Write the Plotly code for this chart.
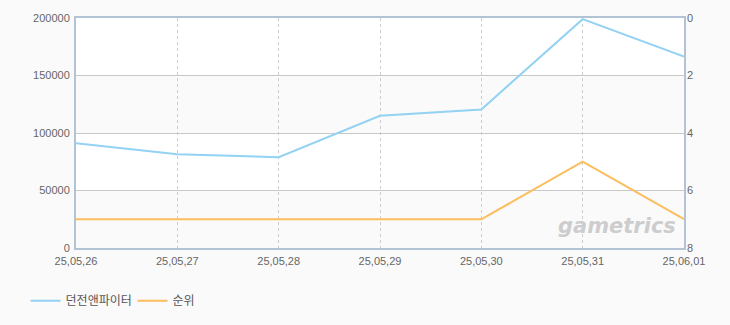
import plotly.graph_objects as go

dates = ["25,05,26", "25,05,27", "25,05,28", "25,05,29", "25,05,30", "25,05,31", "25,06,01"]
players = [91000, 81500, 79000, 115000, 120500, 199000, 166500]
ranks = [7, 7, 7, 7, 7, 5, 7]

name_a = "던전앤파이터"
name_b = "순위"

fig = go.Figure()
fig.add_trace(go.Scatter(x=dates, y=players, name=name_a, mode="lines",
                         line=dict(color="#93d2f2", width=2), yaxis="y"))
fig.add_trace(go.Scatter(x=dates, y=ranks, name=name_b, mode="lines",
                         line=dict(color="#fcbd5c", width=2), yaxis="y2"))

# alternating bands
for lo, hi in [(0, 50000), (100000, 150000)]:
    fig.add_shape(type="rect", xref="paper", yref="y", x0=0, x1=1, y0=lo, y1=hi,
                  fillcolor="#fafafa", line=dict(width=0), layer="below")

fig.add_annotation(text="<b><i>gametrics</i></b>", xref="paper", yref="paper",
                   x=0.99, y=0.035, xanchor="right", yanchor="bottom", showarrow=False,
                   font=dict(family="DejaVu Sans", size=21, color="#cdcdcd"))

tickfont = dict(family="Liberation Sans", size=11, color="#666666")
axis_line = "#b3c3d6"

fig.update_layout(
    width=730, height=325,
    margin=dict(l=76, r=46, t=16, b=77),
    paper_bgcolor="#fafafa", plot_bgcolor="#ffffff",
    font=dict(family="Noto Sans CJK KR", size=11, color="#666666"),
    showlegend=True,
    legend=dict(orientation="h", xref="container", yref="container",
                x=0.035, y=0.075, xanchor="left", yanchor="middle",
                font=dict(family="Noto Sans CJK KR", size=12, color="#555555"),
                bgcolor="rgba(0,0,0,0)", itemwidth=30, tracegroupgap=0,
                entrywidth=62, entrywidthmode="pixels"),
    xaxis=dict(type="category", range=[0, 6], showgrid=True, gridcolor="#cccccc",
               griddash="3px,3px", gridwidth=1, showline=True, linecolor=axis_line,
               linewidth=2, mirror=True, ticks="", tickfont=tickfont, zeroline=False,
               ticklabelstandoff=2),
    yaxis=dict(range=[0, 200000], dtick=50000, showgrid=True, gridcolor="#c8c8c8",
               gridwidth=1, showline=True, linecolor=axis_line, linewidth=2,
               mirror=True, ticks="", tickfont=tickfont, zeroline=False,
               tickformat="d", ticklabelstandoff=2),
    yaxis2=dict(range=[8, 0], dtick=2, overlaying="y", side="right", showgrid=False,
                showline=False, ticks="", tickfont=tickfont, zeroline=False,
                ticklabelstandoff=2),
)

fig.write_html("out.html")
